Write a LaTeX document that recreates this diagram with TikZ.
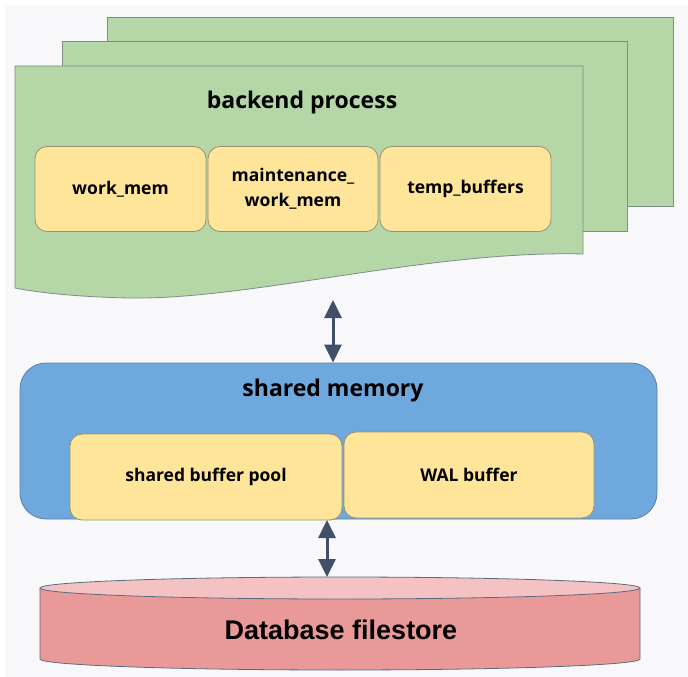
\documentclass[tikz,border=0pt]{standalone}
\usepackage{fontspec}
\setmainfont{Open Sans}
\newfontfamily\arialfont{Liberation Sans}
\usetikzlibrary{arrows.meta}

\definecolor{bgcol}{HTML}{F8F8FA}
\definecolor{pagefill}{HTML}{B5D7A8}
\definecolor{pageline}{HTML}{7F8C86}
\definecolor{memfill}{HTML}{FFE599}
\definecolor{memline}{HTML}{9A9070}
\definecolor{shmfill}{HTML}{6FA8DC}
\definecolor{shmline}{HTML}{5E7FA6}
\definecolor{diskfill}{HTML}{EA9999}
\definecolor{disktop}{HTML}{F4C2C2}
\definecolor{diskline}{HTML}{5A6A80}
\definecolor{arrowcol}{HTML}{3F5068}

\tikzset{
  page/.style={fill=pagefill, draw=pageline, line width=0.8pt},
  membox/.style={fill=memfill, draw=memline, line width=0.8pt, rounded corners=12pt,
    font=\bfseries\fontsize{17.5}{25}\selectfont, align=center, inner sep=0pt},
  titletext/.style={font=\bfseries\fontsize{23}{27}\selectfont},
  biarrow/.style={draw=arrowcol, fill=arrowcol, line width=3pt,
    {Triangle[width=17pt,length=18pt]}-{Triangle[width=17pt,length=18pt]}}
}

\begin{document}
\begin{tikzpicture}[x=1pt,y=-1pt]
  % canvas
  \useasboundingbox (0,0) rectangle (688,677);
  \fill[white] (0,0) rectangle (688,677);
  \fill[bgcol] (5,5) rectangle (688,677);

  % stacked backend process pages
  \draw[page] (107,17) rectangle (673,206);
  \draw[page] (62,41) rectangle (627,231);
  \draw[page] (15,66) -- (583,66) -- (583,254)
    .. controls (430,250) and (250,300) .. (130,298)
    .. controls (80,297) and (40,293) .. (15,288) -- cycle;
  \node[titletext] (bp) at (302,103) {backend process};

  % per-backend memory areas
  \node[membox, minimum width=171pt, minimum height=85pt] (wm) at (120.5,189) {work\_mem};
  \node[membox, minimum width=170pt, minimum height=85pt] (mwm) at (293,189) {maintenance\_\\work\_mem};
  \node[membox, minimum width=171pt, minimum height=85pt] (tb) at (465.5,189) {temp\_buffers};

  % shared memory
  \node[fill=shmfill, draw=shmline, line width=0.8pt, rounded corners=26pt,
        minimum width=637pt, minimum height=156pt] (shm) at (338.5,441) {};
  \node[titletext] (shmt) at (333,391) {shared memory};
  \node[membox, minimum width=272pt, minimum height=86pt] (sbp) at (206,477) {shared buffer pool};
  \node[membox, minimum width=250pt, minimum height=86pt] (wal) at (469,475) {WAL buffer};

  % database filestore cylinder
  \coordinate (dbtop) at (340,577);
  \fill[diskfill] (40,588) -- (40,659) arc[start angle=180, end angle=360, x radius=300pt, y radius=11pt]
    -- (640,588) -- cycle;
  \draw[diskline, line width=0.8pt] (40,588) -- (40,659)
    arc[start angle=180, end angle=360, x radius=300pt, y radius=11pt] -- (640,588);
  \draw[diskline, fill=disktop, line width=0.8pt] (340,588) ellipse[x radius=300pt, y radius=11pt];
  \node[font=\arialfont\bfseries\fontsize{27}{31}\selectfont] (db) at (341,630) {Database filestore};

  % data flow
  \coordinate (a1top) at (333,300);
  \draw[biarrow] (a1top) -- (shm.north -| a1top);
  \coordinate (a2top) at (327,520);
  \draw[biarrow] (a2top) -- (dbtop -| a2top);
\end{tikzpicture}
\end{document}
